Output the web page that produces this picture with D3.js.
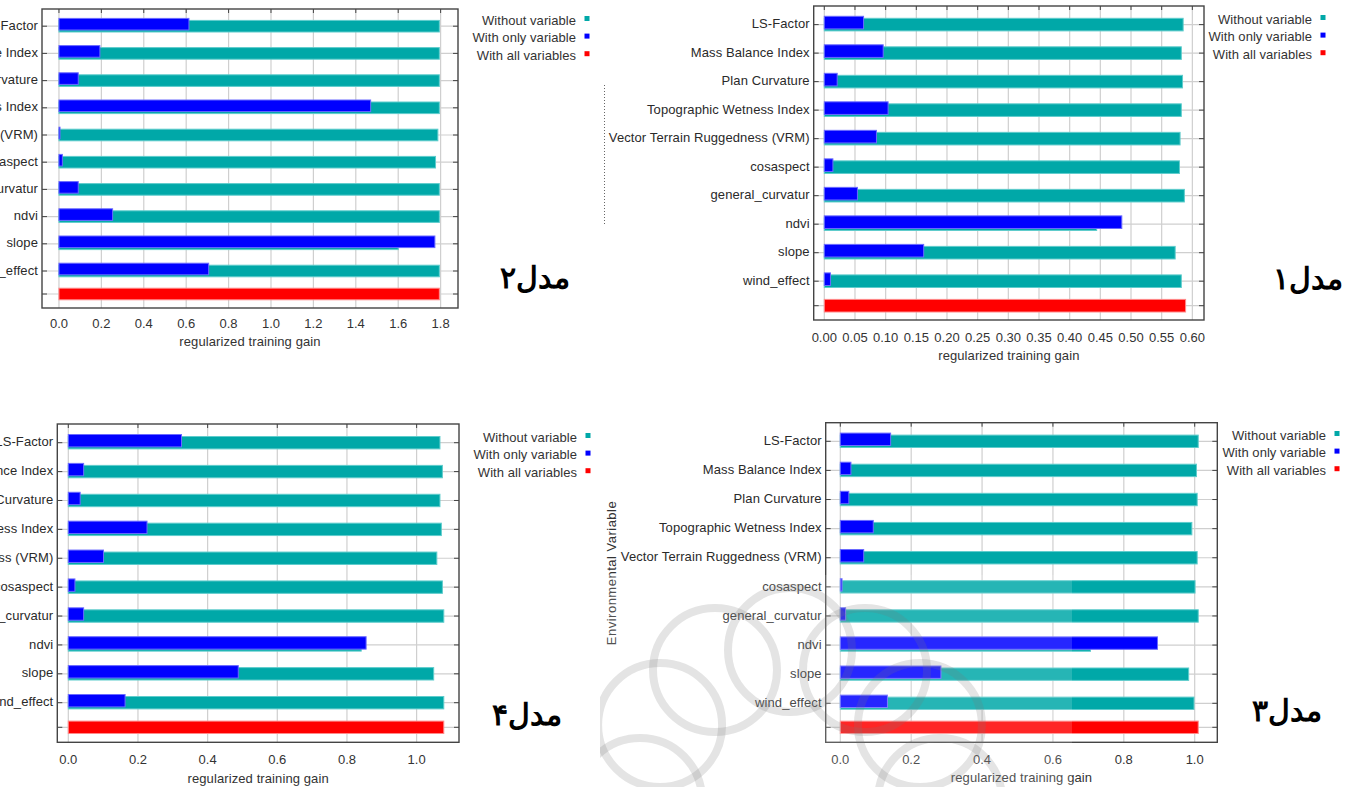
<!DOCTYPE html>
<html>
<head>
<meta charset="utf-8">
<script src="https://cdn.jsdelivr.net/npm/d3@7"></script>
<style>
  html, body { margin: 0; padding: 0; background: #fff; }
  svg { display: block; }
  text { font-family: "Liberation Sans", Arial, sans-serif; }
</style>
</head>
<body>
<svg id="chart" width="1350" height="787"></svg>
<script>
// Environmental variables, top to bottom
const variables = [
  "LS-Factor", "Mass Balance Index", "Plan Curvature", "Topographic Wetness Index",
  "Vector Terrain Ruggedness (VRM)", "cosaspect", "general_curvatur", "ndvi", "slope", "wind_effect"
];
const legendLabels = ["Without variable", "With only variable", "With all variables"];

// Model 1 (regularized training gain)
const model1Without = [0.585, 0.582, 0.584, 0.582, 0.580, 0.579, 0.587, 0.444, 0.572, 0.582];
const model1Only    = [0.064, 0.096, 0.021, 0.104, 0.085, 0.014, 0.054, 0.485, 0.162, 0.010];
const model1All     = 0.589;
const model1Ticks   = [0, 0.05, 0.10, 0.15, 0.20, 0.25, 0.30, 0.35, 0.40, 0.45, 0.50, 0.55, 0.60];

// Model 2
const model2Without = [1.794, 1.794, 1.794, 1.794, 1.787, 1.776, 1.794, 1.794, 1.600, 1.794];
const model2Only    = [0.613, 0.193, 0.091, 1.470, 0.005, 0.016, 0.091, 0.253, 1.773, 0.706];
const model2All     = 1.794;
const model2Ticks   = [0, 0.2, 0.4, 0.6, 0.8, 1.0, 1.2, 1.4, 1.6, 1.8];

// Model 3
const model3Without = [1.010, 1.005, 1.007, 0.992, 1.007, 1.001, 1.010, 0.706, 0.983, 0.998];
const model3Only    = [0.142, 0.030, 0.024, 0.093, 0.066, 0.005, 0.015, 0.895, 0.284, 0.133];
const model3All     = 1.010;
const model3Ticks   = [0, 0.2, 0.4, 0.6, 0.8, 1.0];

// Model 4
const model4Without = [1.067, 1.074, 1.067, 1.071, 1.058, 1.074, 1.078, 0.841, 1.049, 1.078];
const model4Only    = [0.325, 0.044, 0.034, 0.226, 0.101, 0.019, 0.044, 0.855, 0.488, 0.163];
const model4All     = 1.078;
const model4Ticks   = [0, 0.2, 0.4, 0.6, 0.8, 1.0];

const COLORS = {
  without: "#00a8a8", withoutEdge: "#5fcccc",
  only: "#0000ff", onlyEdge: "#6a6aff",
  all: "#ff0000", allEdge: "#ff8a8a"
};

const FONT = 13;

// Panel layouts: frame box, x-domain at the frame edges, row centres
const panels = [
  { name: "مدل۱", without: model1Without, only: model1Only, all: model1All, ticks: model1Ticks, fmt: ".2f",
    frame: [813.7, 6, 1204, 320], domain: [-0.0173, 0.619], rows: [24.6, 281.2], allRow: 305.7, barH: 13.6,
    legend: [1312, 19], badge: [1308, 280], tickY: 337, titleY: 355 },
  { name: "مدل۲", without: model2Without, only: model2Only, all: model2All, ticks: model2Ticks, fmt: ".1f",
    frame: [42, 9, 458, 308], domain: [-0.080, 1.882], rows: [26.2, 271.0], allRow: 294, barH: 12.6,
    legend: [576, 20], badge: [535, 279], tickY: 323.5, titleY: 341.5 },
  { name: "مدل۳", without: model3Without, only: model3Only, all: model3All, ticks: model3Ticks, fmt: ".1f",
    frame: [825.7, 422.7, 1217.3, 742.3], domain: [-0.0412, 1.0638], rows: [441.3, 703.3], allRow: 727.3, barH: 13.4,
    legend: [1326, 435], badge: [1287, 712], tickY: 759.5, titleY: 777.5, yTitle: [611, 573] },
  { name: "مدل۴", without: model4Without, only: model4Only, all: model4All, ticks: model4Ticks, fmt: ".1f",
    frame: [57.3, 424, 459, 742.3], domain: [-0.0316, 1.1217], rows: [442.7, 702.7], allRow: 727.3, barH: 13.4,
    legend: [577, 437], badge: [527, 716], tickY: 759.5, titleY: 778 }
];

const svg = d3.select("#chart");
svg.append("rect").attr("width", 1350).attr("height", 787).attr("fill", "#fff");

function drawPanel(p) {
  const [fx0, fy0, fx1, fy1] = p.frame;
  const g = svg.append("g");
  const x = d3.scaleLinear().domain(p.domain).range([fx0, fx1]);
  const y = d3.scalePoint().domain(variables).range(p.rows);
  const yOf = d => d === "__all__" ? p.allRow : y(d);
  const rowKeys = variables.concat(["__all__"]);

  // grid
  g.append("g").selectAll("line").data(p.ticks).join("line")
    .attr("x1", d => x(d)).attr("x2", d => x(d))
    .attr("y1", fy0).attr("y2", fy1)
    .attr("stroke", "#cfcfcf").attr("stroke-width", 1.2);
  g.append("g").selectAll("line").data(rowKeys).join("line")
    .attr("x1", fx0).attr("x2", fx1)
    .attr("y1", d => yOf(d)).attr("y2", d => yOf(d))
    .attr("stroke", "#cfcfcf").attr("stroke-width", 1.2);

  const h = p.barH;
  const rows = variables.map((v, i) => ({ v, without: p.without[i], only: p.only[i] }));

  // Without variable
  g.append("g").selectAll("rect").data(rows).join("rect")
    .attr("x", x(0)).attr("y", d => y(d.v) - h / 2 + 0.5)
    .attr("width", d => x(d.without) - x(0)).attr("height", h - 1)
    .attr("fill", COLORS.without).attr("stroke", COLORS.withoutEdge).attr("stroke-width", 1);
  // With only variable
  g.append("g").selectAll("rect").data(rows).join("rect")
    .attr("x", x(0)).attr("y", d => y(d.v) - h / 2 - 2 + 0.5)
    .attr("width", d => Math.max(0.8, x(d.only) - x(0))).attr("height", h - 1)
    .attr("fill", COLORS.only).attr("stroke", COLORS.onlyEdge).attr("stroke-width", 1);
  // With all variables
  g.append("rect")
    .attr("x", x(0)).attr("y", p.allRow - h / 2 + 0.5)
    .attr("width", x(p.all) - x(0)).attr("height", h - 1)
    .attr("fill", COLORS.all).attr("stroke", COLORS.allEdge).attr("stroke-width", 1);

  // frame ticks (inward)
  const tk = g.append("g").attr("stroke", "#444").attr("stroke-width", 1);
  p.ticks.forEach(t => {
    tk.append("line").attr("x1", x(t)).attr("x2", x(t)).attr("y1", fy0).attr("y2", fy0 + 4);
  });
  rowKeys.forEach(r => {
    tk.append("line").attr("x1", fx0).attr("x2", fx0 + 5).attr("y1", yOf(r)).attr("y2", yOf(r));
    tk.append("line").attr("x1", fx1 - 5).attr("x2", fx1).attr("y1", yOf(r)).attr("y2", yOf(r));
  });

  // frame
  g.append("rect").attr("x", fx0).attr("y", fy0)
    .attr("width", fx1 - fx0).attr("height", fy1 - fy0)
    .attr("fill", "none").attr("stroke", "#444").attr("stroke-width", 1.4);

  // category labels
  g.append("g").selectAll("text").data(variables).join("text")
    .attr("x", fx0 - 4).attr("y", d => y(d) - 1).attr("dy", "0.36em")
    .attr("text-anchor", "end").attr("font-size", FONT).attr("letter-spacing", 0.1).attr("fill", "#2a2a2a")
    .text(d => d);

  // x tick labels
  const fmt = d3.format(p.fmt);
  g.append("g").selectAll("text").data(p.ticks).join("text")
    .attr("x", d => x(d)).attr("y", p.tickY).attr("dy", "0.36em")
    .attr("text-anchor", "middle").attr("font-size", FONT).attr("fill", "#333")
    .text(d => fmt(d));
  g.append("text").attr("x", (fx0 + fx1) / 2).attr("y", p.titleY).attr("dy", "0.36em")
    .attr("text-anchor", "middle").attr("font-size", FONT).attr("letter-spacing", 0.1).attr("fill", "#333")
    .text("regularized training gain");

  if (p.yTitle) {
    g.append("text").attr("transform", `translate(${p.yTitle[0]},${p.yTitle[1]}) rotate(-90)`)
      .attr("text-anchor", "middle").attr("dy", "0.36em")
      .attr("font-size", FONT).attr("letter-spacing", 0.5).attr("fill", "#333").text("Environmental Variable");
  }

  // legend
  const lg = g.append("g");
  const legendColors = [COLORS.without, COLORS.only, COLORS.all];
  legendLabels.forEach((lab, i) => {
    const ly = p.legend[1] + i * 17.6;
    lg.append("text").attr("x", p.legend[0]).attr("y", ly).attr("dy", "0.36em")
      .attr("text-anchor", "end").attr("font-size", FONT).attr("letter-spacing", 0.05).attr("fill", "#333").text(lab);
    lg.append("rect").attr("x", p.legend[0] + 8.5).attr("y", ly - 4)
      .attr("width", 5).attr("height", 5).attr("fill", legendColors[i]);
  });

  // model badge
  g.append("text").attr("x", p.badge[0]).attr("y", p.badge[1])
    .attr("text-anchor", "middle").attr("dy", "0.3em")
    .attr("font-family", "'DejaVu Sans', 'Noto Sans', sans-serif")
    .attr("font-weight", "bold").attr("font-size", 30).attr("fill", "#000")
    .attr("direction", "rtl")
    .text(p.name);
}

panels.forEach(drawPanel);

// leftover dotted axis-title trace beside model 1
svg.append("line").attr("x1", 604.5).attr("x2", 604.5).attr("y1", 85).attr("y2", 224)
  .attr("stroke", "#666").attr("stroke-width", 1).attr("stroke-dasharray", "1,2");

// faint rosette watermark over the lower middle
const wm = svg.append("g");
wm.append("rect").attr("x", 600).attr("y", 575).attr("width", 472).attr("height", 212)
  .attr("fill", "#fff").attr("opacity", 0.15);
const clip = svg.append("clipPath").attr("id", "wmclip");
clip.append("rect").attr("x", 600).attr("y", 570).attr("width", 520).attr("height", 217);
const petals = d3.range(12).map(i => i * 30);
const rg = wm.append("g").attr("clip-path", "url(#wmclip)")
  .attr("fill", "none").attr("stroke", "#7a7a7a").attr("stroke-opacity", 0.2).attr("stroke-width", 8);
petals.forEach(a => {
  const r = a * Math.PI / 180;
  rg.append("circle").attr("cx", 790 + 150 * Math.cos(r)).attr("cy", 800 + 150 * Math.sin(r)).attr("r", 62);
});
</script>
</body>
</html>
